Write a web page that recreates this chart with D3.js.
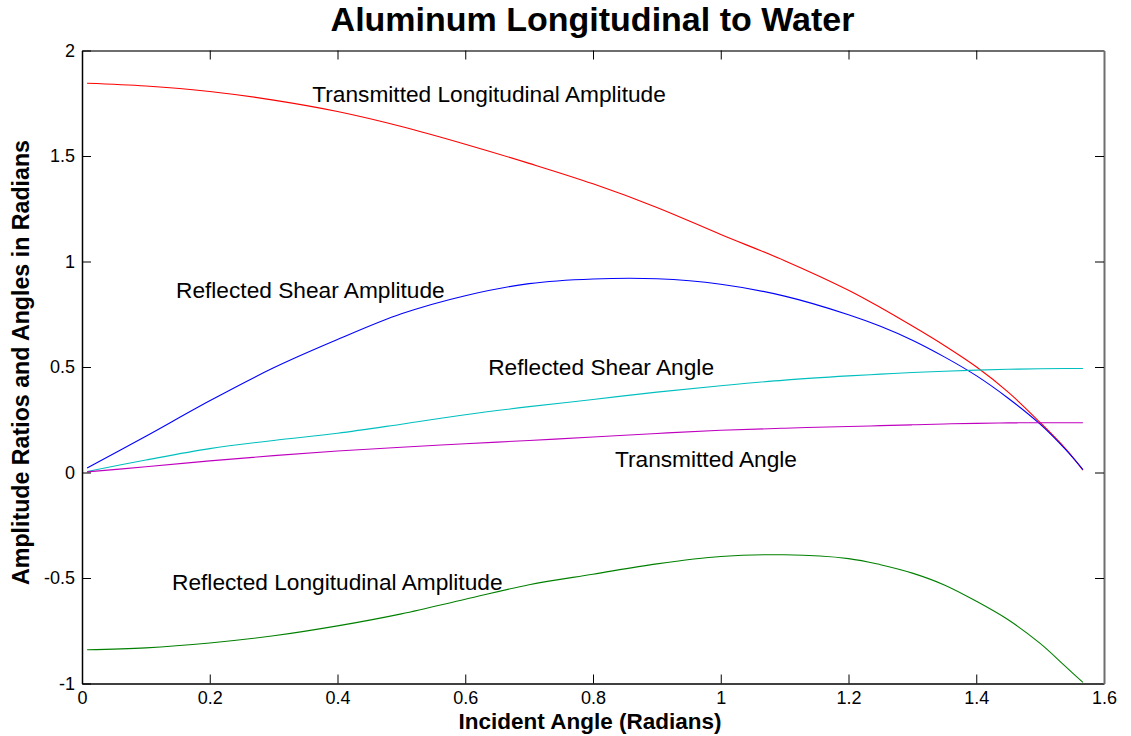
<!DOCTYPE html>
<html>
<head>
<meta charset="utf-8">
<script src="https://cdn.jsdelivr.net/npm/d3@7"></script>
<style>
  html, body { margin: 0; padding: 0; background: #fff; }
  svg { display: block; font-family: "Liberation Sans", Arial, sans-serif; }
</style>
</head>
<body>
<svg id="chart" width="1131" height="736"></svg>
<script>
// Incident angle samples (radians)
const angles = [0.008, 0.1, 0.2, 0.3, 0.4, 0.5, 0.6, 0.7, 0.8, 0.9, 1.0, 1.1, 1.2, 1.25, 1.3, 1.35, 1.4, 1.45, 1.5, 1.54, 1.567];

// Series values at each incident angle
const transmittedLongAmp = [1.845, 1.832, 1.806, 1.765, 1.711, 1.640, 1.556, 1.465, 1.368, 1.256, 1.128, 1.004, 0.864, 0.782, 0.694, 0.602, 0.501, 0.381, 0.237, 0.112, 0.011];
const reflectedShearAmp  = [0.021, 0.172, 0.340, 0.496, 0.630, 0.752, 0.838, 0.895, 0.917, 0.918, 0.892, 0.836, 0.748, 0.693, 0.627, 0.548, 0.459, 0.352, 0.229, 0.108, 0.014];
const reflectedShearAng  = [0.005, 0.059, 0.113, 0.152, 0.186, 0.229, 0.274, 0.312, 0.346, 0.381, 0.411, 0.438, 0.458, 0.466, 0.474, 0.480, 0.485, 0.489, 0.492, 0.493, 0.493];
const transmittedAng     = [0.003, 0.027, 0.055, 0.080, 0.102, 0.120, 0.136, 0.152, 0.168, 0.185, 0.200, 0.210, 0.218, 0.222, 0.226, 0.230, 0.233, 0.235, 0.236, 0.236, 0.236];
const reflectedLongAmp   = [-0.840, -0.831, -0.808, -0.774, -0.727, -0.670, -0.601, -0.532, -0.482, -0.433, -0.398, -0.390, -0.408, -0.437, -0.477, -0.533, -0.610, -0.698, -0.810, -0.920, -0.995];

// Tick values
const xTicks = [0, 0.2, 0.4, 0.6, 0.8, 1.0, 1.2, 1.4, 1.6];
const yTicks = [-1, -0.5, 0, 0.5, 1, 1.5, 2];

// Curve annotations: text and anchor position (left, baseline) in data units
const labelText = ["Transmitted Longitudinal Amplitude", "Reflected Shear Amplitude", "Reflected Shear Angle", "Transmitted Angle", "Reflected Longitudinal Amplitude"];
const labelX = [0.3605, 0.1472, 0.636, 0.8344, 0.141];
const labelY = [1.757, 0.8265, 0.463, 0.0237, -0.556];

const series = [
  { values: transmittedLongAmp, color: "#ff0000" },
  { values: reflectedShearAmp,  color: "#0000ff" },
  { values: reflectedShearAng,  color: "#00bfbf" },
  { values: transmittedAng,     color: "#bf00bf" },
  { values: reflectedLongAmp,   color: "#008000" }
];

const svg = d3.select("#chart");
const plotLeft = 82, plotRight = 1104, plotTop = 50.5, plotBottom = 683.5;

const x = d3.scaleLinear().domain([0, 1.6]).range([plotLeft, plotRight]);
const y = d3.scaleLinear().domain([-1, 2]).range([plotBottom, plotTop]);

// Plot background
svg.append("rect")
  .attr("x", plotLeft).attr("y", plotTop)
  .attr("width", plotRight - plotLeft).attr("height", plotBottom - plotTop)
  .attr("fill", "#fff");

// Curves
const line = d3.line()
  .x(d => x(d[0]))
  .y(d => y(d[1]))
  .curve(d3.curveCatmullRom.alpha(0.5));

series.forEach(s => {
  svg.append("path")
    .datum(angles.map((a, i) => [a, s.values[i]]))
    .attr("fill", "none")
    .attr("stroke", s.color)
    .attr("stroke-width", 1.1)
    .attr("d", line);
});

// Axes with inward ticks on all four sides
const tickLen = 9;
const fmt = d => d3.format("")(d).replace("\u2212", "-");
const tickFont = "'Liberation Sans', Arial, sans-serif";

const xAxisB = svg.append("g").attr("transform", `translate(0,${plotBottom})`)
  .call(d3.axisBottom(x).tickValues(xTicks).tickSizeInner(-tickLen).tickSizeOuter(0).tickPadding(8).tickFormat(fmt));
const xAxisT = svg.append("g").attr("transform", `translate(0,${plotTop})`)
  .call(d3.axisTop(x).tickValues(xTicks).tickSizeInner(-tickLen).tickSizeOuter(0).tickFormat(""));
const yAxisL = svg.append("g").attr("transform", `translate(${plotLeft},0)`)
  .call(d3.axisLeft(y).tickValues(yTicks).tickSizeInner(-tickLen).tickSizeOuter(0).tickPadding(7).tickFormat(fmt));
const yAxisR = svg.append("g").attr("transform", `translate(${plotRight},0)`)
  .call(d3.axisRight(y).tickValues(yTicks).tickSizeInner(-tickLen).tickSizeOuter(0).tickFormat(""));

[xAxisB, yAxisL].forEach(g => {
  g.select(".domain").attr("stroke", "#000").attr("stroke-width", 1.5);
  g.selectAll(".tick line").attr("stroke", "#000");
  g.selectAll(".tick text").attr("font-size", 18).attr("fill", "#000")
    .attr("font-family", tickFont);
});
[xAxisT, yAxisR].forEach(g => {
  g.select(".domain").attr("stroke", "#6e6e6e").attr("stroke-width", 2);
  g.selectAll(".tick line").attr("stroke", "#000");
});
xAxisT.selectAll(".tick").filter(d => d === 0 || d === 1.6).remove();
yAxisR.selectAll(".tick").filter(d => d === 2 || d === -1).remove();

// Curve annotations
labelText.forEach((t, i) => {
  svg.append("text")
    .attr("x", x(labelX[i]))
    .attr("y", y(labelY[i]))
    .attr("font-size", 22.7)
    .attr("fill", "#000")
    .text(t);
});

// Title and axis titles
svg.append("text")
  .attr("x", 592.5).attr("y", 31)
  .attr("text-anchor", "middle")
  .attr("font-size", 34).attr("font-weight", "bold")
  .text("Aluminum Longitudinal to Water");

svg.append("text")
  .attr("x", 590).attr("y", 729)
  .attr("text-anchor", "middle")
  .attr("font-size", 22.5).attr("font-weight", "bold")
  .text("Incident Angle (Radians)");

svg.append("text")
  .attr("transform", `translate(29,362.5) rotate(-90)`)
  .attr("text-anchor", "middle")
  .attr("font-size", 23.2).attr("font-weight", "bold")
  .text("Amplitude Ratios and Angles in Radians");
</script>
</body>
</html>
